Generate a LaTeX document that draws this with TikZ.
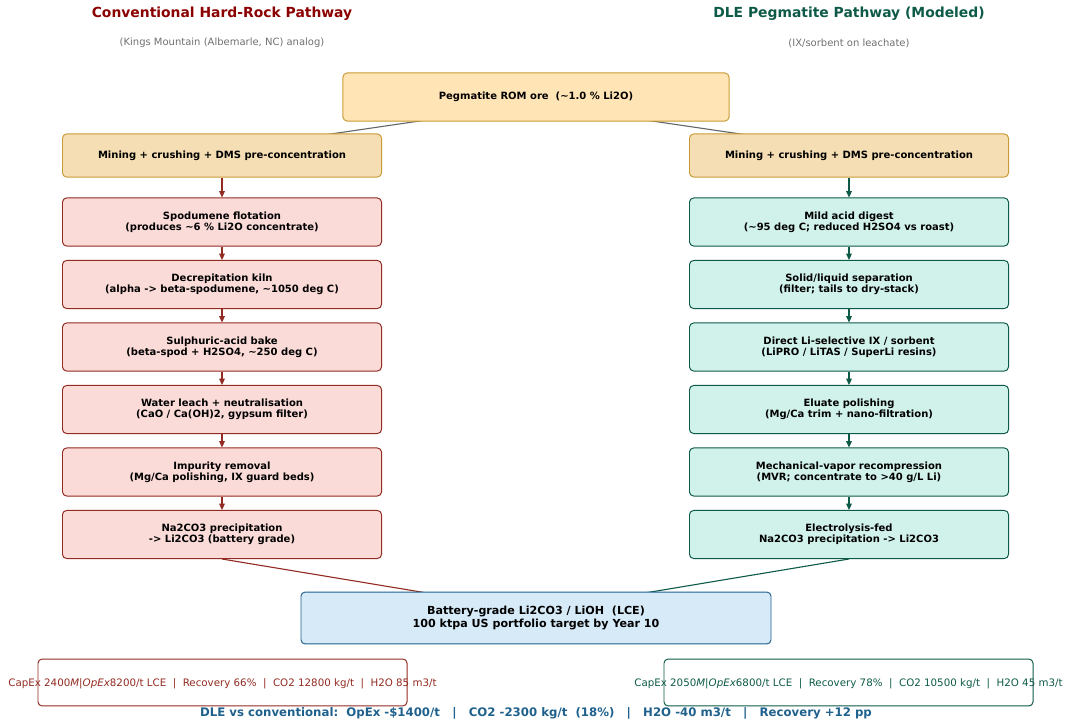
\documentclass[tikz,border=0pt]{standalone}
\usepackage{fontspec}
\setmainfont{DejaVu Sans}
\usetikzlibrary{positioning,arrows.meta,backgrounds}

\definecolor{convred}{HTML}{922B21}
\definecolor{convtitle}{HTML}{8B0000}
\definecolor{convfill}{HTML}{FADBD8}
\definecolor{dlegreen}{HTML}{0E5A48}
\definecolor{dlefill}{HTML}{D1F2EB}
\definecolor{orefill}{HTML}{FFE4B5}
\definecolor{minefill}{HTML}{F5DEB3}
\definecolor{goldline}{HTML}{C89B36}
\definecolor{prodfill}{HTML}{D6EAF8}
\definecolor{prodblue}{HTML}{1F618D}
\definecolor{subgray}{HTML}{707070}

\tikzset{
  title/.style={font=\bfseries\fontsize{10}{12}\selectfont},
  subtitle/.style={font=\fontsize{7.2}{8.5}\selectfont, text=subgray},
  box/.style={draw, rounded corners=3pt, line width=0.7pt, align=center,
    font=\bfseries\fontsize{7.2}{8.2}\selectfont, inner sep=2pt},
  orebox/.style={box, fill=orefill, draw=goldline, minimum width=278pt, minimum height=34.6pt},
  minebox/.style={box, fill=minefill, draw=goldline, minimum width=229.7pt, minimum height=31pt},
  convbox/.style={box, fill=convfill, draw=convred, minimum width=229.7pt, minimum height=34.6pt},
  dlebox/.style={box, fill=dlefill, draw=dlegreen, minimum width=229.7pt, minimum height=34.6pt},
  prodbox/.style={box, fill=prodfill, draw=prodblue, minimum width=338.4pt, minimum height=37.4pt,
    font=\bfseries\fontsize{8}{9.4}\selectfont},
  metricbox/.style={draw, rounded corners=3pt, line width=0.7pt, fill=white,
    minimum width=265.7pt, minimum height=33.8pt},
  metrictext/.style={font=\fontsize{7.4}{8.8}\selectfont},
  flow/.style={-{Triangle[length=4.5pt,width=4pt]}, line width=0.8pt},
}

\begin{document}
\begin{tikzpicture}[x=0.72pt,y=-0.72pt,node distance=45pt,on grid]
\useasboundingbox (0,0) rectangle (1065,725);

% headers
\node[title,text=convtitle] (convhead) at (222,14) {Conventional Hard-Rock Pathway};
\node[subtitle] (convsub) at (222,43) {(Kings Mountain (Albemarle, NC) analog)};
\node[title,text=dlegreen] (dlehead) at (849,14) {DLE Pegmatite Pathway (Modeled)};
\node[subtitle] (dlesub) at (849,43) {(IX/sorbent on leachate)};

% feed
\node[orebox] (ore) at (536,97) {Pegmatite ROM ore\ \ (\textasciitilde1.0 \% Li2O)};
\node[minebox] (convmine) at (222,155.5) {Mining + crushing + DMS pre-concentration};
\node[minebox] (dlemine) at (849,155.5) {Mining + crushing + DMS pre-concentration};

% conventional route
\node[convbox] (c1) at (222,222) {Spodumene flotation\\(produces \textasciitilde6 \% Li2O concentrate)};
\node[convbox] (c2) [below=of c1] {Decrepitation kiln\\(alpha -> beta-spodumene, \textasciitilde1050 deg C)};
\node[convbox] (c3) [below=of c2] {Sulphuric-acid bake\\(beta-spod + H2SO4, \textasciitilde250 deg C)};
\node[convbox] (c4) [below=of c3] {Water leach + neutralisation\\(CaO / Ca(OH)2, gypsum filter)};
\node[convbox] (c5) [below=of c4] {Impurity removal\\(Mg/Ca polishing, IX guard beds)};
\node[convbox] (c6) [below=of c5] {Na2CO3 precipitation\\-> Li2CO3 (battery grade)};

% DLE route
\node[dlebox] (d1) at (849,222) {Mild acid digest\\(\textasciitilde95 deg C; reduced H2SO4 vs roast)};
\node[dlebox] (d2) [below=of d1] {Solid/liquid separation\\(filter; tails to dry-stack)};
\node[dlebox] (d3) [below=of d2] {Direct Li-selective IX / sorbent\\(LiPRO / LiTAS / SuperLi resins)};
\node[dlebox] (d4) [below=of d3] {Eluate polishing\\(Mg/Ca trim + nano-filtration)};
\node[dlebox] (d5) [below=of d4] {Mechanical-vapor recompression\\(MVR; concentrate to >40 g/L Li)};
\node[dlebox] (d6) [below=of d5] {Electrolysis-fed\\Na2CO3 precipitation -> Li2CO3};

% product
\node[prodbox] (prod) at (536,618) {Battery-grade Li2CO3 / LiOH\ \ (LCE)\\100 ktpa US portfolio target by Year 10};

% metrics
\node[metricbox,draw=convred] (convmetric) at (222.5,682.5) {};
\node[metrictext,text=convred] (convmtext) at (222.5,683.5) {CapEx 2400\textit{M}|\textit{OpEx}8200/t LCE\ \ |\ \ Recovery 66\%\ \ |\ \ CO2 12800 kg/t\ \ |\ \ H2O 85 m3/t};
\node[metricbox,draw=dlegreen] (dlemetric) at (848.5,682.5) {};
\node[metrictext,text=dlegreen] (dlemtext) at (848.5,683.5) {CapEx 2050\textit{M}|\textit{OpEx}6800/t LCE\ \ |\ \ Recovery 78\%\ \ |\ \ CO2 10500 kg/t\ \ |\ \ H2O 45 m3/t};
\node[font=\bfseries\fontsize{8.45}{10}\selectfont, text=prodblue] (delta) at (536,713)
  {DLE vs conventional:\ \ OpEx -\$1400/t\ \ \ |\ \ \ CO2 -2300 kg/t\ \ (18\%)\ \ \ |\ \ \ H2O -40 m3/t\ \ \ |\ \ \ Recovery +12 pp};

% links behind the boxes
\begin{pgfonlayer}{background}
\draw[line width=0.8pt, gray!80!black] ([yshift=-5pt]ore.center) -- ([yshift=4pt]convmine.center);
\draw[line width=0.8pt, gray!80!black] ([yshift=-5pt]ore.center) -- ([yshift=4pt]dlemine.center);
\draw[line width=0.8pt, convred] (c6.south) -- ([yshift=5pt]prod.center);
\draw[line width=0.8pt, dlegreen] (d6.south) -- ([yshift=5pt]prod.center);
\end{pgfonlayer}

% step arrows
\draw[flow,convred] (convmine) -- (c1);
\draw[flow,convred] (c1) -- (c2);
\draw[flow,convred] (c2) -- (c3);
\draw[flow,convred] (c3) -- (c4);
\draw[flow,convred] (c4) -- (c5);
\draw[flow,convred] (c5) -- (c6);
\draw[flow,dlegreen] (dlemine) -- (d1);
\draw[flow,dlegreen] (d1) -- (d2);
\draw[flow,dlegreen] (d2) -- (d3);
\draw[flow,dlegreen] (d3) -- (d4);
\draw[flow,dlegreen] (d4) -- (d5);
\draw[flow,dlegreen] (d5) -- (d6);
\end{tikzpicture}
\end{document}
